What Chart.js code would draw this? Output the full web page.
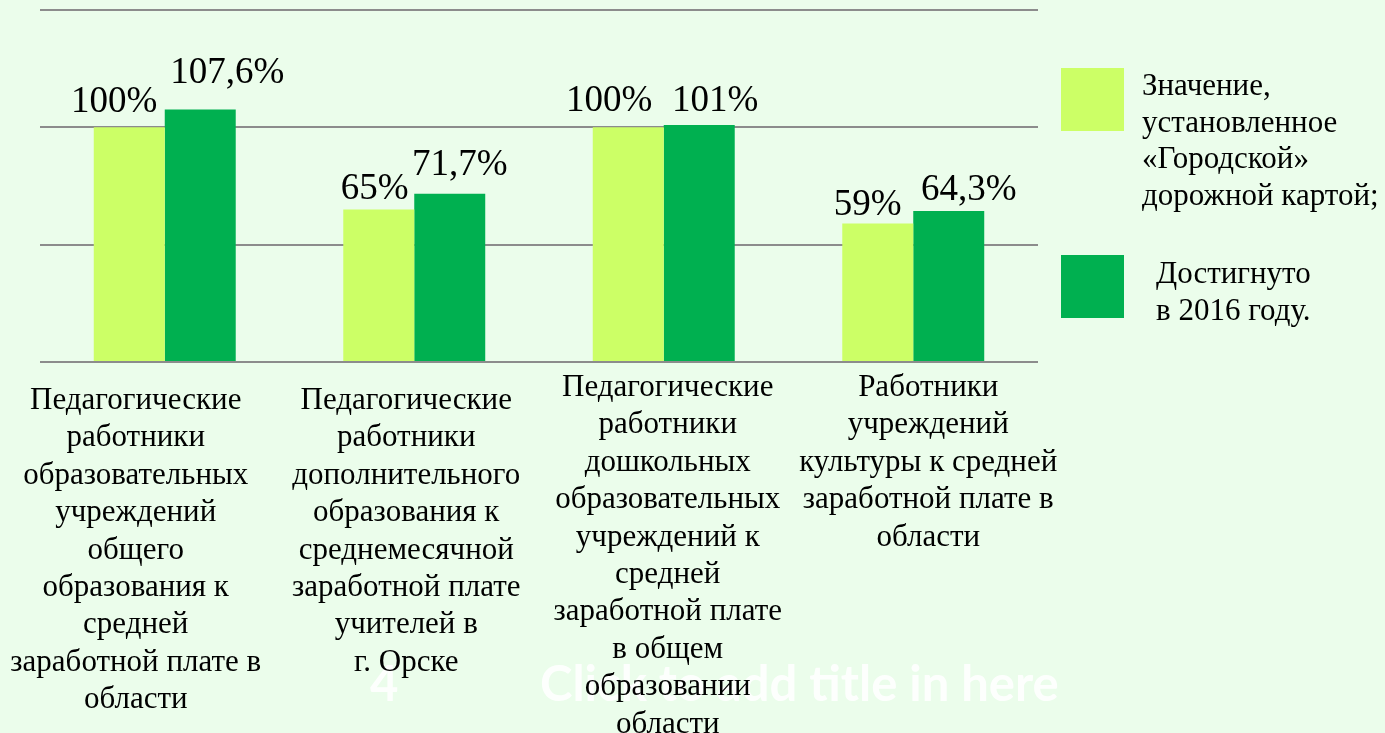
<!DOCTYPE html>
<html>
<head>
<meta charset="utf-8">
<script src="https://cdn.jsdelivr.net/npm/chart.js@4/dist/chart.umd.min.js"></script>
<style>
  html, body { margin: 0; padding: 0; background: #ebfdeb; }
  #wrap { width: 1385px; height: 733px; position: relative; overflow: hidden; }
  canvas { display: block; }
</style>
</head>
<body>
<div id="wrap"><canvas id="c" width="1385" height="733"></canvas></div>
<script>
// ---- data ----
const categories = [
  ['Педагогические', 'работники', 'образовательных', 'учреждений', 'общего', 'образования к', 'средней', 'заработной плате в', 'области'],
  ['Педагогические', 'работники', 'дополнительного', 'образования к', 'среднемесячной', 'заработной плате', 'учителей в', 'г. Орске'],
  ['Педагогические', 'работники', 'дошкольных', 'образовательных', 'учреждений к', 'средней', 'заработной плате', 'в общем', 'образовании', 'области'],
  ['Работники', 'учреждений', 'культуры к средней', 'заработной плате в', 'области']
];
const plannedValues = [100, 65, 100, 59];
const achievedValues = [107.6, 71.7, 101, 64.3];
const plannedLabels = ['100%', '65%', '100%', '59%'];
const achievedLabels = ['107,6%', '71,7%', '101%', '64,3%'];
const seriesNames = [
  ['Значение,', 'установленное', '«Городской»', 'дорожной картой;'],
  ['Достигнуто', 'в 2016 году.']
];
const yTickValues = [0, 50, 100, 150];
const watermarkNumber = '4';
const watermarkTitle = 'Click to add title in here';

// ---- styles / layout (not data) ----
const COLORS = ['#ccff66', '#00b050'];
const SERIF = '"Liberation Serif", "Times New Roman", serif';

const labelPlugin = {
  id: 'customText',
  afterDraw(chart) {
    const ctx = chart.ctx;
    const x = chart.scales.x;
    ctx.save();

    // watermark (faded slide title)
    ctx.fillStyle = 'rgba(255,255,255,0.9)';
    ctx.font = 'bold 49px Lato, "Open Sans", sans-serif';
    ctx.textBaseline = 'alphabetic';
    ctx.textAlign = 'left';
    ctx.fillText(watermarkNumber, 370, 701);
    ctx.fillText(watermarkTitle, 540, 701);

    // value labels
    ctx.fillStyle = '#000';
    ctx.font = '37px ' + SERIF;
    ctx.textAlign = 'center';
    ctx.textBaseline = 'alphabetic';
    const offs = [
      { dx: [-15, -4, -19, -10], gap: [15, 10, 16, 9] },
      { dx: [27, 10, 16, 20], gap: [26, 19, 14, 11] }
    ];
    const texts = [plannedLabels, achievedLabels];
    chart.data.datasets.forEach((ds, di) => {
      const meta = chart.getDatasetMeta(di);
      meta.data.forEach((bar, i) => {
        ctx.fillText(texts[di][i], bar.x + offs[di].dx[i], bar.y - offs[di].gap[i]);
      });
    });

    // category labels
    ctx.font = '31px ' + SERIF;
    ctx.textBaseline = 'alphabetic';
    const catDx = [-29, -8, 4, 15];
    const catBase = [409, 409, 396, 396];
    const lh = 37.4;
    categories.forEach((lines, i) => {
      const cx = x.getPixelForValue(i) + catDx[i];
      lines.forEach((t, k) => ctx.fillText(t, cx, catBase[i] + k * lh));
    });

    // legend
    ctx.textAlign = 'left';
    const legBoxY = [68, 255];
    const legTextX = [1142, 1156];
    const legTextY = [95, 283];
    seriesNames.forEach((lines, i) => {
      ctx.fillStyle = COLORS[i];
      ctx.fillRect(1061, legBoxY[i], 63, 63);
      ctx.fillStyle = '#000';
      lines.forEach((t, k) => ctx.fillText(t, legTextX[i], legTextY[i] + k * 36.5));
    });
    ctx.restore();
  }
};

new Chart(document.getElementById('c'), {
  type: 'bar',
  data: {
    labels: categories.map((c, i) => String(i)),
    datasets: [
      { label: seriesNames[0].join(' '), data: plannedValues, backgroundColor: COLORS[0], borderWidth: 0 },
      { label: seriesNames[1].join(' '), data: achievedValues, backgroundColor: COLORS[1], borderWidth: 0 }
    ]
  },
  options: {
    responsive: false,
    animation: false,
    events: [],
    layout: { padding: { left: 40, right: 347, top: 10, bottom: 371 } },
    categoryPercentage: 0.569,
    barPercentage: 1,
    plugins: { legend: { display: false }, tooltip: { enabled: false } },
    scales: {
      x: { display: false, grid: { display: false } },
      y: {
        min: 0, max: 150,
        afterBuildTicks: (s) => { s.ticks = yTickValues.map(v => ({ value: v })); },
        ticks: { display: false },
        border: { display: false },
        grid: { color: '#8c8c8c', lineWidth: 2, drawTicks: false }
      }
    }
  },
  plugins: [labelPlugin]
});
</script>
</body>
</html>
